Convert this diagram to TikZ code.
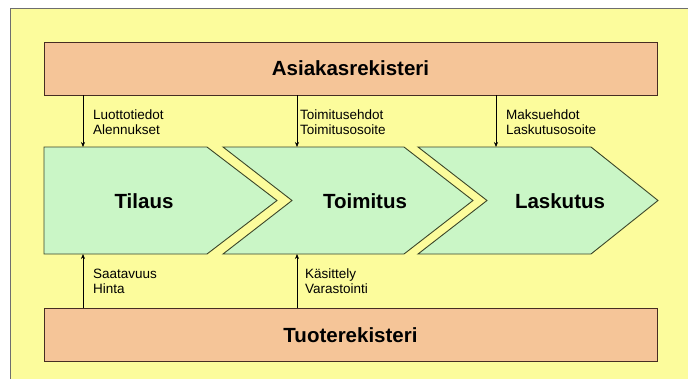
\documentclass[tikz,border=0pt]{standalone}
\usepackage{fontspec}
\setmainfont{Liberation Sans}
\usetikzlibrary{arrows.meta}
\definecolor{bgyellow}{RGB}{252,252,156}
\definecolor{regfill}{RGB}{245,197,152}
\definecolor{regline}{RGB}{70,45,35}
\definecolor{chevfill}{RGB}{202,246,198}
\definecolor{chevline}{RGB}{60,70,40}
\definecolor{frameline}{RGB}{110,110,110}
\tikzset{
  register/.style={draw=regline, fill=regfill, line width=0.9pt, inner sep=0pt,
    minimum width=613pt, minimum height=53pt,
    font=\fontsize{20.5}{24}\selectfont\bfseries},
  chevron/.style={draw=chevline, fill=chevfill, line width=0.9pt},
  chevtext/.style={font=\fontsize{20.5}{24}\selectfont\bfseries, inner sep=0pt},
  flow/.style={draw=black, line width=0.6pt, -{Stealth[length=5pt,width=4pt]}},
  flowlabel/.style={font=\fontsize{13.5}{15}\selectfont, align=left, anchor=west, inner sep=0pt}
}
\begin{document}
\begin{tikzpicture}[x=1pt, y=-1pt]
  \useasboundingbox (0,0) rectangle (688,378);
  \fill[white] (0,0) rectangle (688,378);
  % frame
  \draw[frameline, fill=bgyellow, line width=0.9pt] (10,8) rectangle (695,385);

  % registers
  \node[register] (cust) at (350.5,68.5) {Asiakasrekisteri};
  \node[register] (prod) at (350.5,335) {Tuoterekisteri};

  % process chevrons
  \path[chevron] (44,147) -- (207,147) -- (277,200.5) -- (207,254) -- (44,254) -- cycle;
  \path[chevron] (223,147) -- (404,147) -- (473,200.5) -- (404,254) -- (223,254) -- (292,200.5) -- cycle;
  \path[chevron] (418,147) -- (591,147) -- (658,200.5) -- (591,254) -- (418,254) -- (487,200.5) -- cycle;
  \node[chevtext] (tilaus) at (144,201.5) {Tilaus};
  \node[chevtext] (toimitus) at (365,201.5) {Toimitus};
  \node[chevtext] (laskutus) at (560,201.5) {Laskutus};

  % arrow end points on the chevron edges
  \coordinate (t1) at (83,147);
  \coordinate (t2) at (297,147);
  \coordinate (t3) at (496,147);
  \coordinate (b1) at (83,254);
  \coordinate (b2) at (297,254);

  % customer register flows
  \draw[flow] (cust.south -| t1) -- (t1);
  \draw[flow] (cust.south -| t2) -- (t2);
  \draw[flow] (cust.south -| t3) -- (t3);
  \node[flowlabel] (l1) at (93,122) {Luottotiedot\\Alennukset};
  \node[flowlabel] (l2) at (300,122) {Toimitusehdot\\Toimitusosoite};
  \node[flowlabel] (l3) at (506,122) {Maksuehdot\\Laskutusosoite};

  % product register flows
  \draw[flow] (prod.north -| b1) -- (b1);
  \draw[flow] (prod.north -| b2) -- (b2);
  \node[flowlabel] (l4) at (93,281) {Saatavuus\\Hinta};
  \node[flowlabel] (l5) at (305,281) {Käsittely\\Varastointi};
\end{tikzpicture}
\end{document}
